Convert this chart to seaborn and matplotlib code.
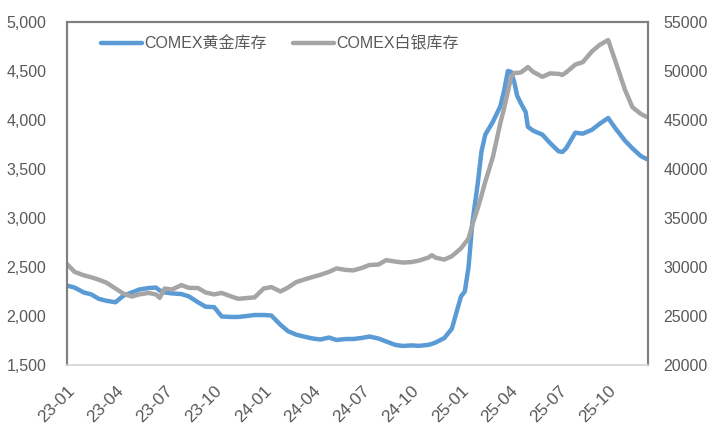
import pandas as pd
import matplotlib
matplotlib.use("Agg")
import matplotlib.pyplot as plt
import matplotlib.dates as mdates
from matplotlib.ticker import FuncFormatter, MultipleLocator
import seaborn as sns

# Data (万盎司)
dates = [
    "2023-01-01", "2023-01-15", "2023-02-01", "2023-02-15", "2023-03-01", "2023-03-15",
    "2023-04-01", "2023-04-15", "2023-05-01", "2023-05-15", "2023-06-01", "2023-06-15",
    "2023-06-22", "2023-07-01", "2023-07-15", "2023-08-01", "2023-08-15", "2023-09-01",
    "2023-09-15", "2023-10-01", "2023-10-15", "2023-11-01", "2023-11-15", "2023-12-01",
    "2023-12-15", "2024-01-01", "2024-01-15", "2024-02-01", "2024-02-15", "2024-03-01",
    "2024-03-15", "2024-04-01", "2024-04-15", "2024-05-01", "2024-05-15", "2024-06-01",
    "2024-06-15", "2024-07-01", "2024-07-15", "2024-08-01", "2024-08-15", "2024-09-01",
    "2024-09-15", "2024-10-01", "2024-10-15", "2024-11-01", "2024-11-08", "2024-11-15",
    "2024-12-01", "2024-12-15", "2025-01-01", "2025-01-08", "2025-01-15", "2025-01-22",
    "2025-02-01", "2025-02-08", "2025-02-15", "2025-03-01", "2025-03-15", "2025-03-22",
    "2025-03-29", "2025-04-04", "2025-04-10", "2025-04-15", "2025-04-22", "2025-05-01",
    "2025-05-05", "2025-05-15", "2025-06-01", "2025-06-15", "2025-07-01", "2025-07-08",
    "2025-07-15", "2025-08-01", "2025-08-15", "2025-09-01", "2025-09-15", "2025-10-01",
    "2025-10-15", "2025-11-01", "2025-11-15", "2025-12-01", "2025-12-12",
]
gold = [
    2310, 2290, 2240, 2220, 2175, 2155,
    2140, 2205, 2240, 2270, 2285, 2290,
    2260, 2240, 2230, 2224, 2200, 2140,
    2095, 2090, 1995, 1990, 1990, 2000,
    2010, 2010, 2005, 1910, 1845, 1810,
    1790, 1770, 1760, 1780, 1755, 1765,
    1765, 1776, 1790, 1770, 1740, 1705,
    1694, 1700, 1695, 1705, 1715, 1730,
    1775, 1870, 2200, 2250, 2500, 2950,
    3350, 3680, 3850, 3980, 4140, 4300,
    4500, 4490, 4380, 4250, 4170, 4080,
    3930, 3890, 3850, 3765, 3680, 3673,
    3710, 3870, 3860, 3900, 3960, 4020,
    3910, 3790, 3710, 3630, 3600,
]
silver = [
    30300, 29500, 29150, 28950, 28700, 28400,
    27800, 27300, 26980, 27200, 27350, 27200,
    26850, 27800, 27700, 28150, 27870, 27850,
    27400, 27200, 27350, 27000, 26750, 26830,
    26900, 27800, 27950, 27500, 27900, 28450,
    28700, 28980, 29200, 29500, 29850, 29700,
    29650, 29900, 30200, 30250, 30700, 30550,
    30450, 30500, 30650, 30950, 31200, 30950,
    30750, 31100, 31900, 32400, 32900, 34300,
    36000, 37300, 38700, 41200, 44700, 46200,
    47900, 49400, 49800, 49800, 49850, 50200,
    50400, 49900, 49400, 49750, 49700, 49600,
    49850, 50650, 50900, 52000, 52650, 53150,
    50900, 48100, 46300, 45600, 45300,
]

df = pd.DataFrame({"date": pd.to_datetime(dates), "gold": gold, "silver": silver})

sns.set_style("white")
plt.rcParams["font.family"] = ["Liberation Sans", "Noto Sans CJK SC", "DejaVu Sans"]

fig = plt.figure(figsize=(7.16, 4.37), dpi=100)
ax = fig.add_axes([0.0936, 0.1648, 0.8115, 0.785])
ax2 = ax.twinx()

sns.lineplot(data=df, x="date", y="gold", ax=ax, color="#5B9BD5", linewidth=3.2,
             label="COMEX黄金库存", legend=False)
sns.lineplot(data=df, x="date", y="silver", ax=ax2, color="#A5A5A5", linewidth=3.2,
             label="COMEX白银库存", legend=False)

ax.set_xlim(pd.Timestamp("2023-01-01"), pd.Timestamp("2025-12-14"))
ax.set_ylim(1500, 5000)
ax2.set_ylim(20000, 55000)
ax.yaxis.set_major_locator(MultipleLocator(500))
ax2.yaxis.set_major_locator(MultipleLocator(5000))
ax.yaxis.set_major_formatter(FuncFormatter(lambda v, p: f"{v:,.0f}"))

ax.xaxis.set_major_locator(mdates.MonthLocator(bymonth=[1, 4, 7, 10]))
ax.xaxis.set_major_formatter(mdates.DateFormatter("%y-%m"))

for a in (ax, ax2):
    a.set_xlabel("")
    a.set_ylabel("")
    a.tick_params(length=0, labelsize=11.5, colors="#595959")
    for s in a.spines.values():
        s.set_color("#808080")
        s.set_linewidth(1.5)
    a.spines["bottom"].set_color("#D9D9D9")
    a.spines["bottom"].set_linewidth(1.2)
ax.tick_params(axis="y", pad=15)
ax2.tick_params(axis="y", pad=11)
ax.tick_params(axis="x", pad=13, labelsize=12.5)
plt.setp(ax.get_xticklabels(), rotation=45, ha="right", rotation_mode="anchor")

h1, l1 = ax.get_legend_handles_labels()
h2, l2 = ax2.get_legend_handles_labels()
ax2.legend(h1 + h2, l1 + l2, loc="upper left", bbox_to_anchor=(0.033, 1.0), ncol=2,
           frameon=False, fontsize=11.5, labelcolor="#595959", handlelength=2.6,
           handletextpad=0.15, columnspacing=1.6)

fig.savefig("out.png", dpi=100)
